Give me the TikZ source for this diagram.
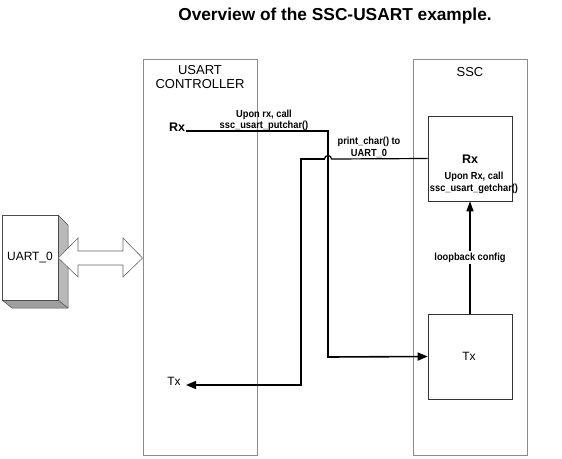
\documentclass[tikz,border=0pt]{standalone}
\usepackage{fontspec}
\setmainfont{Liberation Sans}
\usetikzlibrary{arrows.meta}
\newcommand{\nar}[1]{\scalebox{0.9}[1]{#1}}
\begin{document}
\begin{tikzpicture}[x=1pt,y=-1pt,
  panel/.style={draw=gray!90,line width=0.9pt,minimum width=114pt,minimum height=396pt,inner sep=0pt},
  inner/.style={draw=black!80,line width=0.6pt,minimum width=84pt,minimum height=85pt,inner sep=0pt},
  lbl/.style={font=\bfseries\fontsize{10.3}{11.5}\selectfont,align=center,inner sep=1pt},
  flow/.style={line width=1.6pt,-{Triangle[length=10pt,width=8pt]}}]
\useasboundingbox (0,0) rectangle (562,458);
\node[font=\bfseries\fontsize{17.3}{20}\selectfont] (title) at (335,16) {Overview of the SSC-USART example.};
% panels
\node[panel] (usart) at (200,257) {};
\node[panel] (ssc) at (470,257) {};
\node[font=\fontsize{13}{14}\selectfont,align=center] (usartlbl) at (200,77) {USART\\CONTROLLER};
\node[font=\fontsize{13}{14}\selectfont] (ssclbl) at (470,72) {SSC};
% SSC inner boxes
\node[inner] (srx) at (470,158.5) {};
\node[inner] (stx) at (470,356.5) {};
\node[font=\bfseries\fontsize{12.5}{14}\selectfont] (srxt) at (470,159) {Rx};
\node[lbl] (srxd) at (474,183) {\nar{Upon Rx, call}\\\nar{ssc\_usart\_getchar()}};
\node[font=\fontsize{12}{14}\selectfont] (stxt) at (469,356) {Tx};
% USART labels
\node[font=\bfseries\fontsize{12.5}{14}\selectfont,inner sep=1pt] (urx) at (177,127) {Rx};
\node[font=\fontsize{12}{14}\selectfont,inner sep=1pt] (utx) at (174,381) {Tx};
% coordinates
\coordinate (a1) at (186,131);
\coordinate (a2) at (328,131);
\coordinate (a3) at (328,357);
\coordinate (b1) at (301,159);
\coordinate (b2) at (301,385);
\coordinate (bt) at (186,385);
\coordinate (h1) at (331.5,159);
% path 1: usart Rx -> ssc Tx
\draw[flow] (a1) -- (a2) -- (a3) -- (stx.west);
% path 2: ssc Rx -> usart Tx
\draw[line width=1.2pt] (srx.west) -- (h1) arc (0:-180:3.5);
\draw[flow] (324.5,159) -- (b1) -- (b2) -- (bt);
% loopback
\draw[line width=1.3pt,-{Triangle[length=10pt,width=7pt]}] (stx.north) -- (srx.south)
  node[midway,lbl,fill=white,inner sep=2pt] (loop) {\nar{loopback config}};
% labels on arrows
\node[lbl] (l1) at (264,120.5) {\nar{Upon rx, call}\\\nar{ssc\_usart\_putchar()}};
\node[lbl] (l2) at (369,147.5) {\nar{print\_char() to}\\\nar{UART\_0}};
% UART_0 3D block
\fill[gray!55] (58,215) -- (68,225) -- (68,308) -- (58,300) -- cycle;
\fill[gray!75] (2,300) -- (58,300) -- (68,308) -- (12,308) -- cycle;
\draw[gray!60!black,line width=0.5pt] (58,215) -- (68,225) -- (68,308) -- (12,308) -- (2,300);
\draw[gray!60!black,line width=0.5pt] (58,300) -- (68,308);
\node[draw=gray!60!black,fill=white,line width=0.5pt,minimum width=56pt,minimum height=85pt,inner sep=0pt,
  font=\fontsize{12}{14}\selectfont] (uart) at (30,257.5) {UART\_0};
% double arrow
\draw[gray!80!black,fill=white,line width=0.6pt]
  (uart.east |- 0,258) -- (78,238) -- (78,251) -- (123,251) -- (123,238) -- (usart.west |- 0,258)
  -- (123,277) -- (123,265) -- (78,265) -- (78,277) -- cycle;
\end{tikzpicture}
\end{document}
